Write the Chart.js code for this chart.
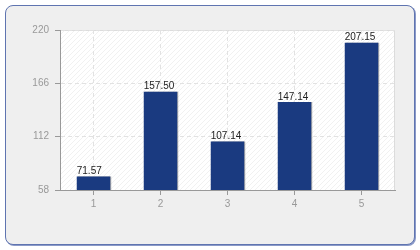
<!DOCTYPE html>
<html>
<head>
<meta charset="utf-8">
<script src="https://cdn.jsdelivr.net/npm/chart.js@4"></script>
<style>
  html, body { margin: 0; padding: 0; background: #fff; }
  #wrap { position: relative; width: 420px; height: 250px; }
  #box {
    position: absolute; left: 5px; top: 5px; width: 408px; height: 238px;
    border: 1px solid #5f74b0; border-radius: 8px; background: #efefef;
    box-shadow: 1px 1px 0 #8b9ac8;
  }
  #myChart { position: absolute; left: 0; top: 0; }
</style>
</head>
<body>
<div id="wrap">
  <div id="box"></div>
  <canvas id="myChart" width="420" height="250"></canvas>
</div>
<script>
// chart data
const categories = ['1', '2', '3', '4', '5'];
const values = [71.57, 157.50, 107.14, 147.14, 207.15];
const yTicks = [58, 112, 166, 220];

const tickFont = { family: 'Liberation Sans', size: 10 };

// white plot area with light diagonal hatching
const plotBackground = {
    id: 'plotBackground',
    beforeDraw(chart) {
        const { ctx, chartArea: a } = chart;
        ctx.save();
        ctx.fillStyle = '#ffffff';
        ctx.fillRect(a.left, a.top, a.right - a.left, a.bottom - a.top);
        ctx.beginPath();
        ctx.rect(a.left, a.top, a.right - a.left, a.bottom - a.top);
        ctx.clip();
        ctx.strokeStyle = '#f1f1f1';
        ctx.lineWidth = 1;
        const h = a.bottom - a.top;
        for (let x = a.left - h; x < a.right + h; x += 5) {
            ctx.beginPath();
            ctx.moveTo(x, a.bottom);
            ctx.lineTo(x + h, a.top);
            ctx.stroke();
        }
        ctx.restore();
        // light frame top / right
        ctx.save();
        ctx.strokeStyle = '#dcdcdc';
        ctx.beginPath();
        ctx.moveTo(a.left, a.top + 0.5);
        ctx.lineTo(a.right - 0.5, a.top + 0.5);
        ctx.lineTo(a.right - 0.5, a.bottom);
        ctx.stroke();
        ctx.restore();
    }
};

// small shadow on bars
const barShadow = {
    id: 'barShadow',
    beforeDatasetsDraw(chart) {
        const ctx = chart.ctx;
        ctx.save();
        ctx.shadowColor = 'rgba(80,80,80,0.45)';
        ctx.shadowOffsetX = 1;
        ctx.shadowOffsetY = 0;
        ctx.shadowBlur = 0;
    },
    afterDatasetsDraw(chart) {
        chart.ctx.restore();
    }
};

// value labels above each bar, starting at bar's left edge
const valueLabels = {
    id: 'valueLabels',
    afterDatasetsDraw(chart) {
        const ctx = chart.ctx;
        const meta = chart.getDatasetMeta(0);
        ctx.save();
        ctx.font = '10px "Liberation Sans"';
        ctx.fillStyle = '#222222';
        ctx.textAlign = 'left';
        ctx.textBaseline = 'bottom';
        meta.data.forEach(function (bar, i) {
            const left = bar.x - bar.width / 2;
            ctx.fillText(values[i].toFixed(2), left, bar.y);
        });
        ctx.restore();
    }
};

const ctx = document.getElementById('myChart');
const myChart = new Chart(ctx, {
    type: 'bar',
    data: {
        labels: categories,
        datasets: [{
            data: values,
            backgroundColor: '#1a3a80',
            barPercentage: 0.5,
            categoryPercentage: 1
        }]
    },
    options: {
        responsive: false,
        animation: false,
        layout: { padding: { left: 0, top: 30, right: 25, bottom: 0 } },
        plugins: { legend: { display: false }, tooltip: { enabled: false } },
        scales: {
            x: {
                grid: {
                    offset: false, color: '#e2e2e2', tickColor: '#999999',
                    tickLength: 5, tickBorderDash: []
                },
                border: { color: '#999999', dash: [4, 3] },
                ticks: { color: '#999999', font: tickFont, padding: 3 },
                afterFit(scale) { scale.height = 60; }
            },
            y: {
                min: 58,
                max: 220,
                afterBuildTicks(scale) { scale.ticks = yTicks.map(v => ({ value: v })); },
                grid: {
                    color: '#e2e2e2', tickColor: '#999999',
                    tickLength: 5, tickBorderDash: []
                },
                border: { color: '#999999', dash: [4, 3] },
                ticks: { color: '#999999', font: tickFont, padding: 6 },
                afterFit(scale) { scale.width = 60; }
            }
        }
    },
    plugins: [plotBackground, barShadow, valueLabels]
});
</script>
</body>
</html>
